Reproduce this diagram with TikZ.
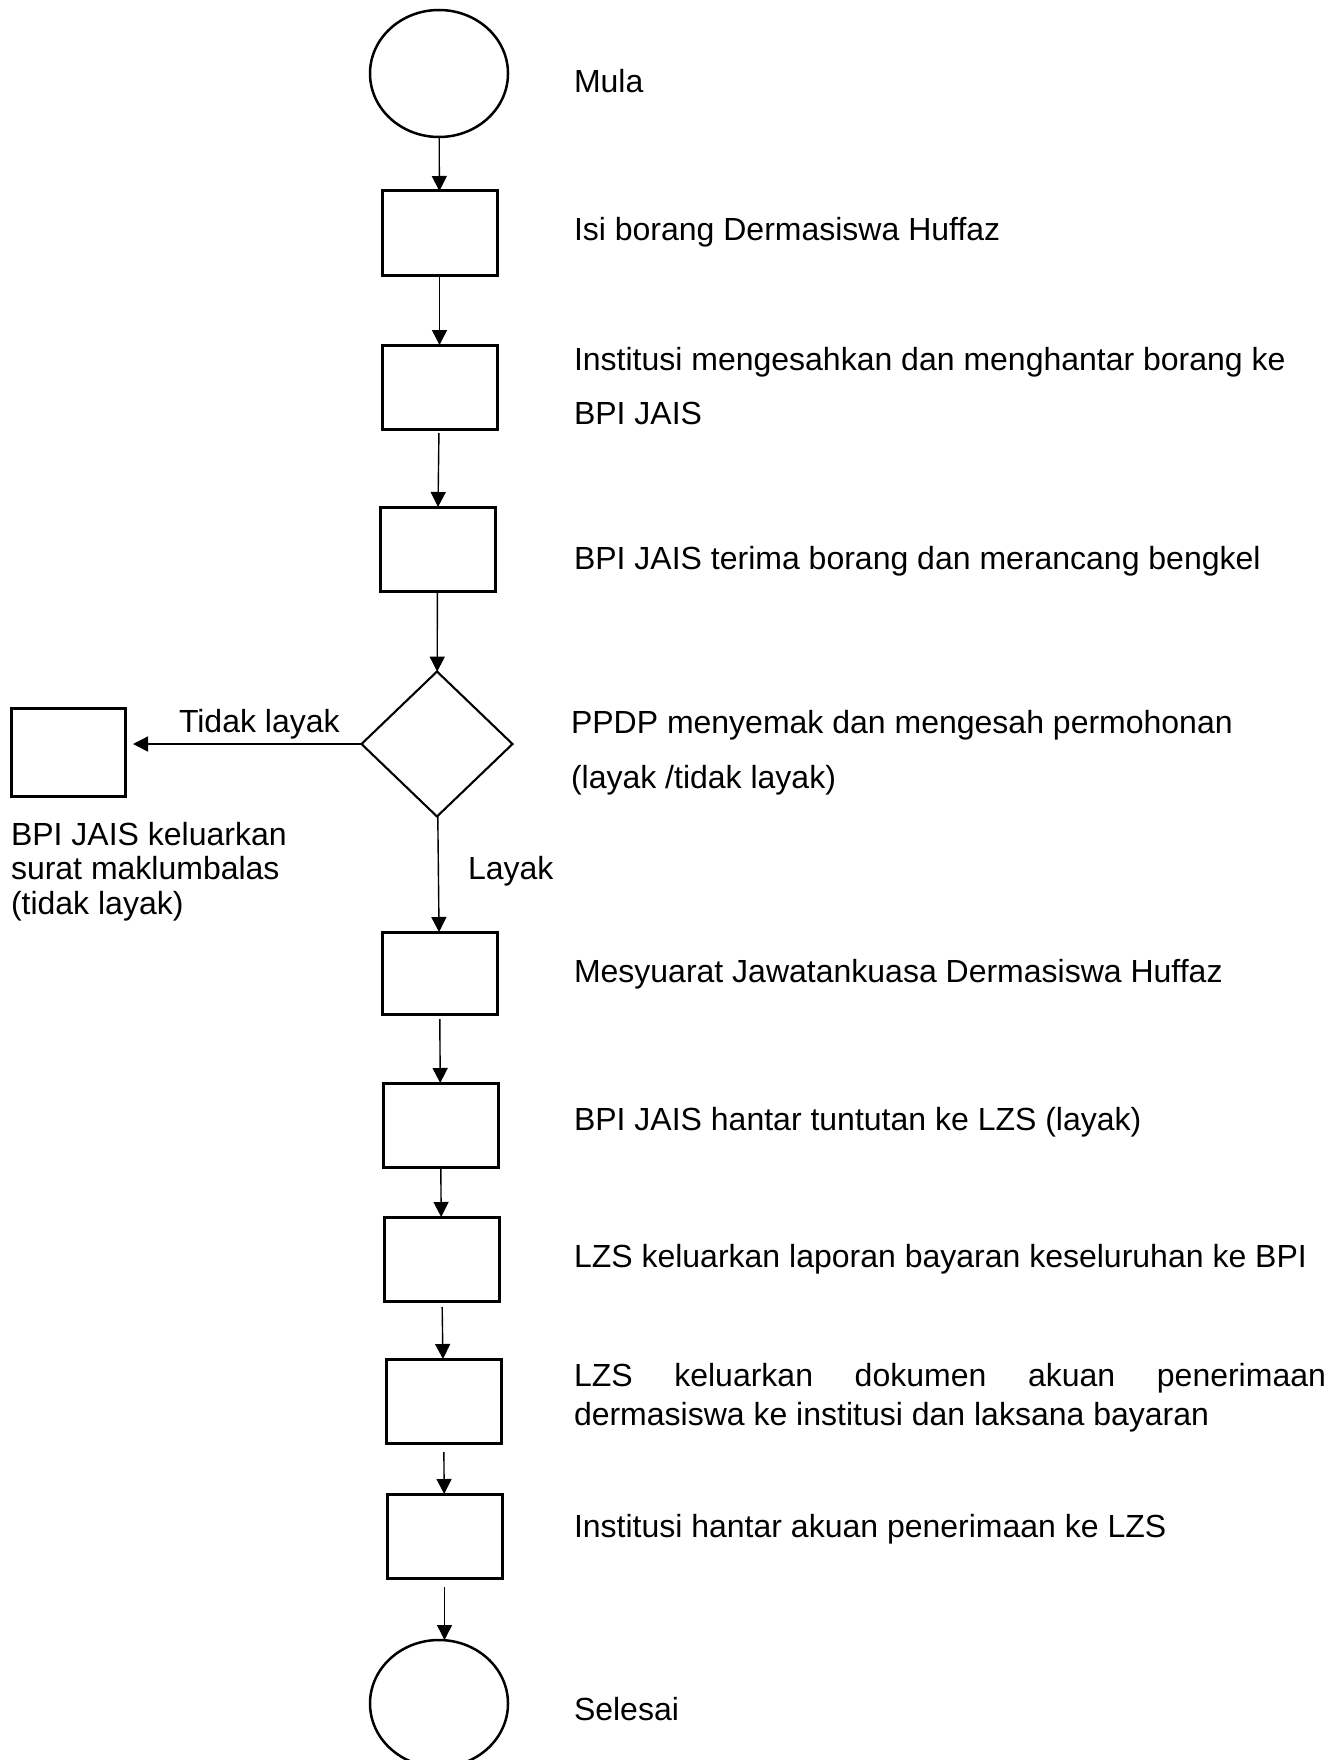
\documentclass[tikz,border=0pt]{standalone}
\usepackage{fontspec}
\setmainfont{Liberation Sans}
\usetikzlibrary{shapes.geometric,arrows.meta}
\begin{document}
\begin{tikzpicture}[x=0.5pt,y=-0.5pt,
  box/.style={draw,line width=1.5pt,minimum width=57.5pt,minimum height=42pt,inner sep=0pt,outer sep=0pt},
  term/.style={draw,ellipse,line width=1.25pt,minimum width=69pt,minimum height=63.5pt,inner sep=0pt,outer sep=0pt},
  dec/.style={draw,diamond,line width=1.05pt,minimum width=75.5pt,minimum height=72.5pt,inner sep=0pt,outer sep=0pt},
  arr/.style={line width=0.7pt,-{Triangle[length=7.5pt,width=7.5pt]}},
  lbl/.style={anchor=base west,inner sep=0pt,outer sep=0pt,font=\fontsize{16}{19}\selectfont}]
\fill[white] (0,0) rectangle (1338,1760);
\useasboundingbox (0,0) rectangle (1338,1760);

% shapes
\node[term] (start) at (439,73.5) {};
\node[box] (b1) at (439.5,233) {};
\node[box] (b2) at (439.5,387) {};
\node[box] (b3) at (437.5,549) {};
\node[dec] (d) at (437,744) {};
\node[box,minimum width=57pt,minimum height=44pt] (lb) at (68,752) {};
\node[box,minimum height=41pt] (b4) at (439.5,973) {};
\node[box] (b5) at (440.5,1125) {};
\node[box] (b6) at (441.5,1259) {};
\node[box] (b7) at (443.5,1401) {};
\node[box] (b8) at (444.5,1536) {};
\node[term] (end) at (439,1703.5) {};

% texts
\node[lbl] (t0) at (574,93) {Mula};
\node[lbl] (t1) at (574,241) {Isi borang Dermasiswa Huffaz};
\node[lbl] (t2a) at (574,370) {Institusi mengesahkan dan menghantar borang ke};
\node[lbl] (t2b) at (574,424) {BPI JAIS};
\node[lbl] (t3) at (574,569) {BPI JAIS terima borang dan merancang bengkel};
\node[lbl] (t4a) at (571,733) {PPDP menyemak dan mengesah permohonan};
\node[lbl] (t4b) at (571,788) {(layak /tidak layak)};
\node[lbl] (tno) at (179,732) {Tidak layak};
\node[lbl] (tl1) at (11,845) {BPI JAIS keluarkan};
\node[lbl] (tl2) at (11,879) {surat maklumbalas};
\node[lbl] (tl3) at (11,914) {(tidak layak)};
\node[lbl] (tyes) at (468,879) {Layak};
\node[lbl] (t5) at (574,982) {Mesyuarat Jawatankuasa Dermasiswa Huffaz};
\node[lbl] (t6) at (574,1130) {BPI JAIS hantar tuntutan ke LZS (layak)};
\node[lbl] (t7) at (574,1267) {LZS keluarkan laporan bayaran keseluruhan ke BPI};
\node[lbl] (t8a) at (574,1386) {\makebox[376pt][s]{LZS keluarkan dokumen akuan penerimaan}};
\node[lbl] (t8b) at (574,1425) {dermasiswa ke institusi dan laksana bayaran};
\node[lbl] (t9) at (574,1537) {Institusi hantar akuan penerimaan ke LZS};
\node[lbl] (t10) at (574,1720) {Selesai};

% connectors
\draw[arr] (start) -- (b1);
\draw[arr] (b1) -- (b2);
\draw[arr,shorten <=2pt] (b2) -- (b3);
\draw[arr] (b3) -- (d);
\draw[arr,shorten >=4pt] (d.west) -- (d.west -| lb.east);
\draw[arr] (d) -- (b4);
\draw[arr,shorten <=2.5pt] (b4) -- (b5);
\draw[arr] (b5) -- (b6);
\draw[arr,shorten <=3pt] (b6) -- (b7);
\draw[arr,shorten <=4.5pt] (b7) -- (b8);
\draw[arr,shorten <=4.5pt] (b8.south) -- (end.north -| b8.south);
\end{tikzpicture}
\end{document}
